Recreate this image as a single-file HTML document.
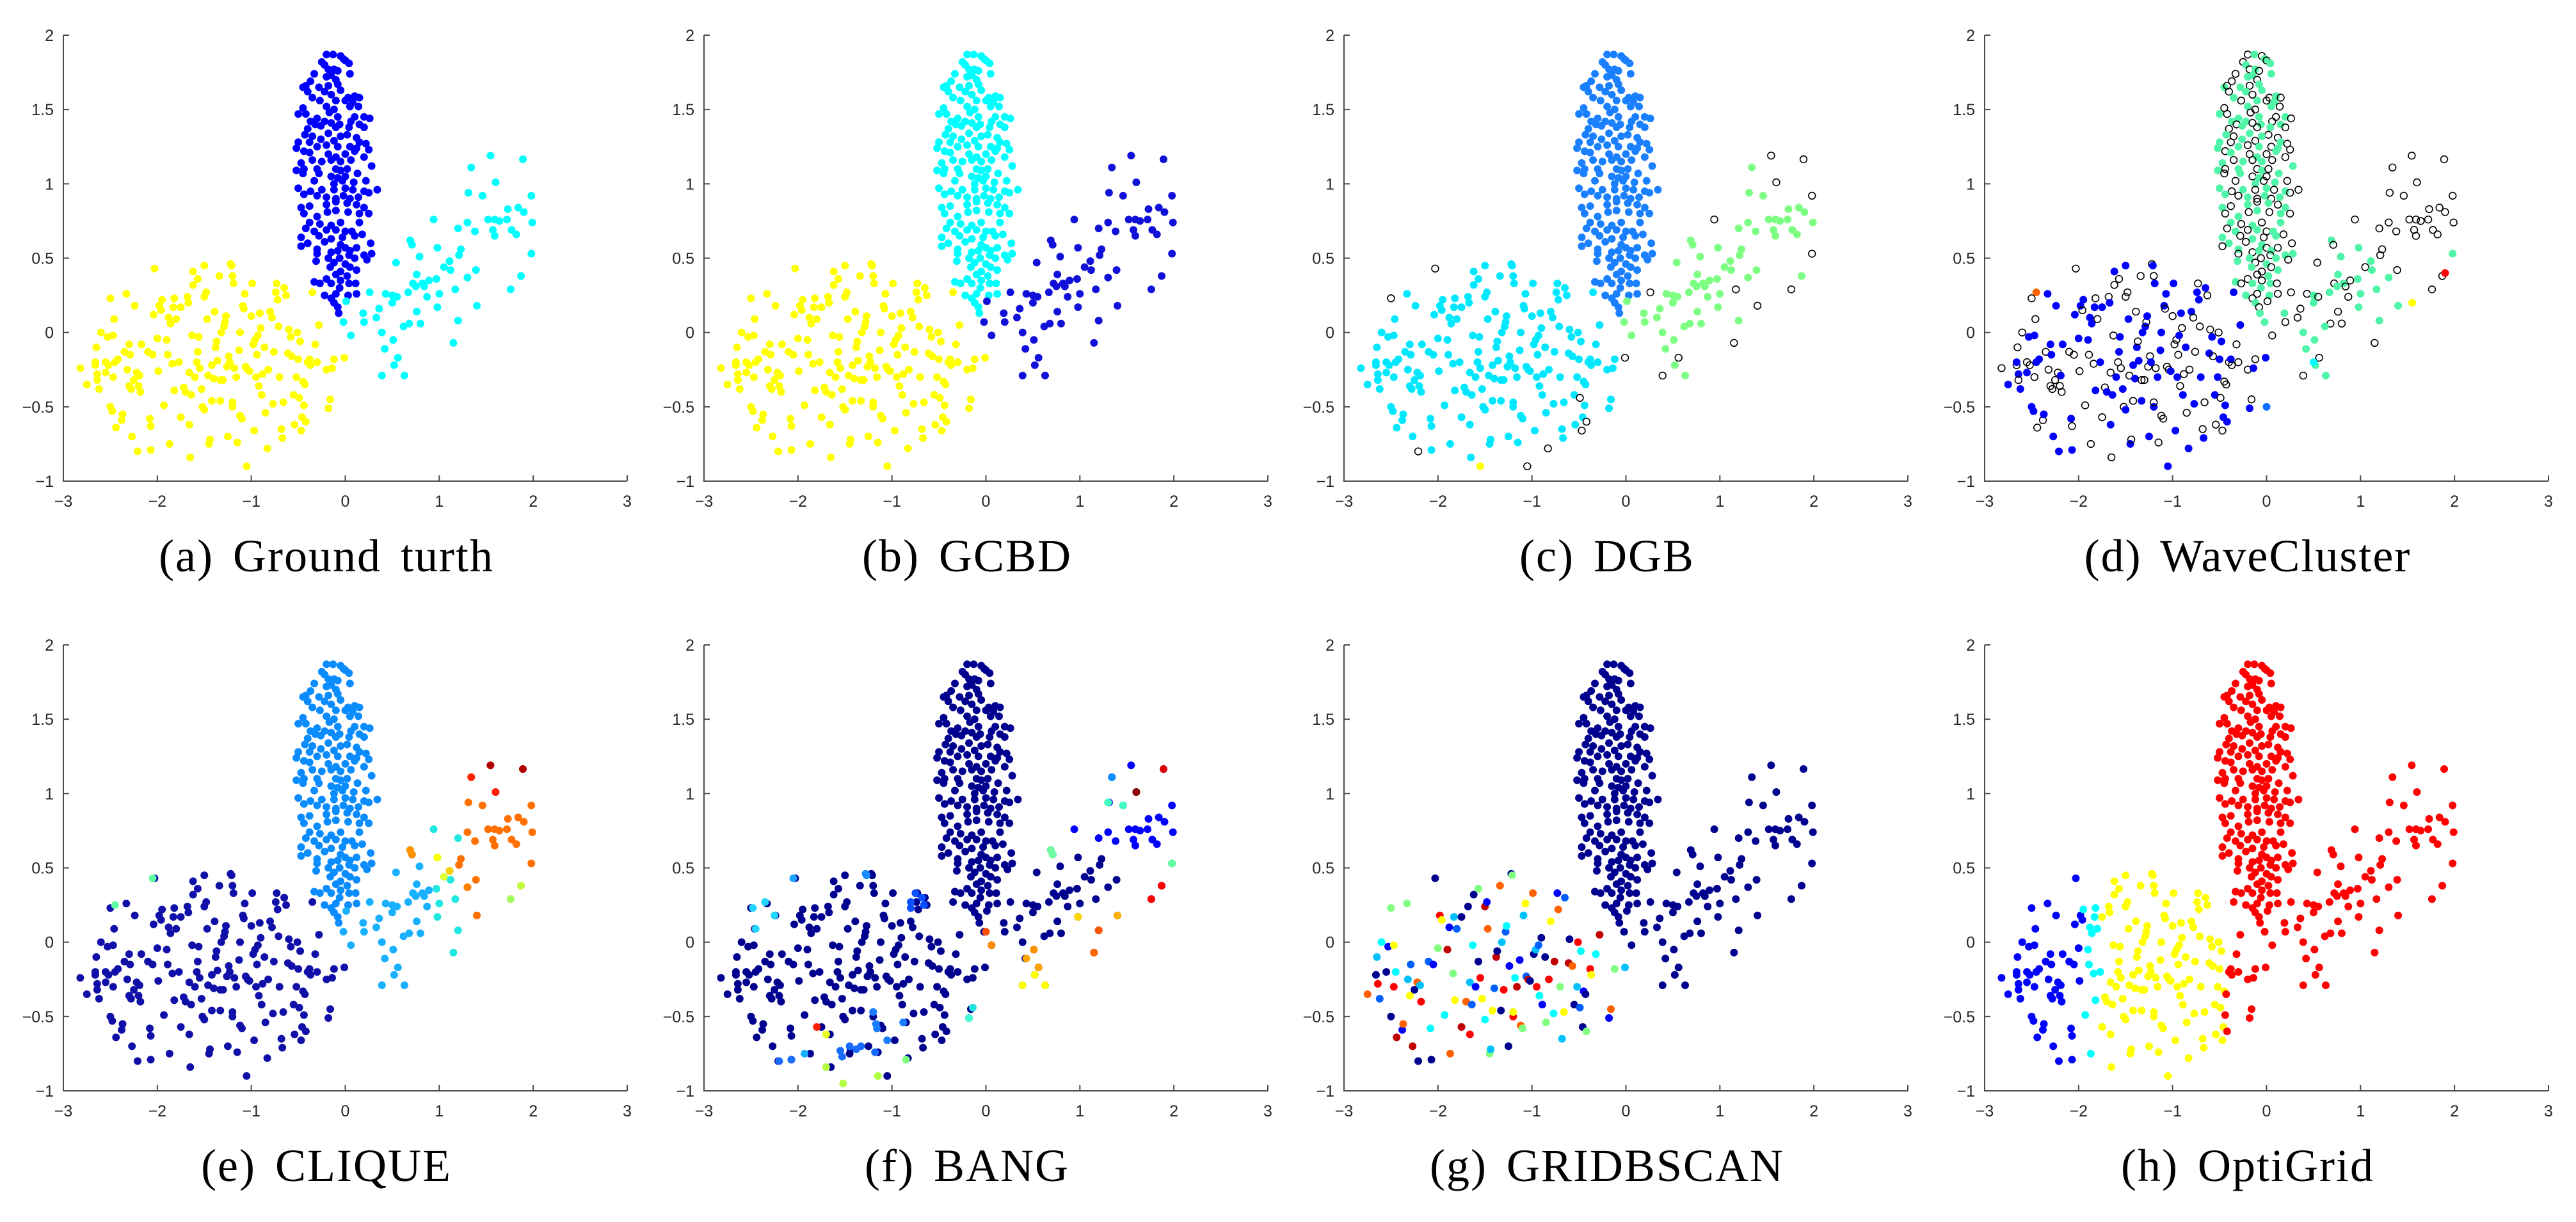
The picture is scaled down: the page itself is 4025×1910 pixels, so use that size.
<!DOCTYPE html>
<html><head><meta charset="utf-8">
<style>
html,body{margin:0;padding:0;background:#fff;}
svg{display:block;}
</style></head>
<body>
<svg id="fig" width="4025" height="1910" viewBox="0 0 4025 1910" xmlns="http://www.w3.org/2000/svg"></svg>
<script>
// ---- data ----
const xTicks=[-3,-2,-1,0,1,2,3];
const yTicks=[-1,-0.5,0,0.5,1,1.5,2];
const yTickLabels=["\u22121","\u22120.5","0","0.5","1","1.5","2"];
const xTickLabels=["\u22123","\u22122","\u22121","0","1","2","3"];
const captions=["(a)  Ground turth","(b)  GCBD","(c)  DGB","(d)  WaveCluster","(e)  CLIQUE","(f)  BANG","(g)  GRIDBSCAN","(h)  OptiGrid"];
const armPts=[[1.545,1.19],[1.89,1.165],[1.34,1.11],[1.6,1.01],[1.31,0.94],[1.46,0.92],[1.98,0.92],[1.84,0.84],[1.9,0.81],[1.73,0.83],[0.94,0.76],[1.3,0.74],[1.52,0.76],[1.59,0.76],[1.64,0.75],[1.72,0.76],[1.99,0.74],[1.2,0.7],[1.57,0.69],[1.38,0.68],[1.77,0.69],[1.82,0.66],[1.59,0.65],[0.69,0.62],[0.71,0.59],[0.98,0.57],[1.23,0.56],[0.79,0.51],[1.21,0.52],[1.98,0.53],[0.54,0.47],[1.11,0.48],[1.05,0.44],[1.12,0.42],[1.39,0.42],[0.76,0.39],[1.87,0.38],[1.3,0.37],[0.89,0.35],[0.97,0.36],[0.72,0.33],[0.82,0.33],[0.84,0.31],[0.75,0.31],[1.76,0.29],[1.17,0.29],[0.26,0.27],[0.67,0.27],[0.43,0.26],[0.5,0.25],[0.55,0.24],[1.0,0.26],[0.87,0.24],[0.5,0.2],[0.01,0.21],[1.4,0.18],[0.36,0.16],[0.98,0.17],[0.76,0.14],[0.19,0.13],[0.33,0.1],[1.2,0.08],[0.2,0.07],[-0.02,0.07],[0.68,0.06],[0.62,0.04],[0.8,0.06],[0.39,0.0],[0.06,-0.02],[0.51,-0.05],[1.15,-0.07],[0.42,-0.11],[0.56,-0.17],[0.52,-0.22],[0.39,-0.29],[0.63,-0.29]];
const circlePts=[[-2.82,-0.24],[-2.75,-0.35],[-2.66,-0.22],[-2.66,-0.2],[-2.65,-0.1],[-2.64,-0.28],[-2.64,-0.32],[-2.62,-0.38],[-2.6,0.0],[-2.55,-0.27],[-2.55,-0.2],[-2.53,-0.03],[-2.52,-0.22],[-2.5,-0.5],[-2.5,0.23],[-2.48,-0.53],[-2.47,-0.3],[-2.47,-0.02],[-2.46,0.09],[-2.45,-0.2],[-2.44,-0.64],[-2.42,-0.18],[-2.38,-0.59],[-2.37,-0.55],[-2.35,-0.13],[-2.33,0.26],[-2.32,-0.25],[-2.3,-0.08],[-2.3,-0.36],[-2.29,-0.15],[-2.28,-0.38],[-2.27,-0.7],[-2.25,-0.32],[-2.24,0.18],[-2.22,-0.27],[-2.21,-0.8],[-2.2,-0.36],[-2.19,-0.29],[-2.18,-0.4],[-2.17,-0.08],[-2.1,-0.13],[-2.08,-0.58],[-2.07,-0.63],[-2.07,-0.79],[-2.05,-0.15],[-2.04,0.12],[-2.03,0.43],[-2.0,-0.04],[-1.99,-0.26],[-1.98,0.18],[-1.96,0.15],[-1.95,0.22],[-1.93,-0.49],[-1.9,-0.05],[-1.89,-0.15],[-1.88,0.1],[-1.87,-0.75],[-1.86,0.06],[-1.84,-0.21],[-1.83,0.17],[-1.82,0.23],[-1.82,-0.39],[-1.8,0.09],[-1.77,-0.2],[-1.75,-0.57],[-1.75,0.17],[-1.72,-0.37],[-1.7,-0.4],[-1.68,0.24],[-1.67,0.2],[-1.66,-0.27],[-1.66,-0.62],[-1.65,-0.84],[-1.64,-0.42],[-1.63,-0.02],[-1.62,0.41],[-1.62,0.32],[-1.6,-0.3],[-1.58,-0.2],[-1.57,-0.13],[-1.57,0.36],[-1.56,-0.03],[-1.55,-0.24],[-1.53,-0.38],[-1.52,-0.5],[-1.5,-0.52],[-1.5,0.24],[-1.5,0.45],[-1.48,0.27],[-1.47,0.09],[-1.46,-0.29],[-1.45,-0.75],[-1.44,-0.72],[-1.42,-0.22],[-1.42,-0.46],[-1.4,-0.31],[-1.39,0.14],[-1.38,-0.1],[-1.37,-0.06],[-1.36,-0.19],[-1.34,0.38],[-1.33,-0.46],[-1.33,-0.32],[-1.32,0.0],[-1.3,-0.32],[-1.29,0.04],[-1.28,0.07],[-1.27,0.11],[-1.26,-0.23],[-1.25,-0.7],[-1.24,-0.16],[-1.23,-0.2],[-1.22,0.46],[-1.21,0.45],[-1.2,0.38],[-1.2,-0.5],[-1.2,-0.47],[-1.19,0.33],[-1.18,-0.24],[-1.16,-0.3],[-1.15,-0.74],[-1.13,-0.12],[-1.12,-0.56],[-1.12,0.0],[-1.1,-0.58],[-1.09,0.18],[-1.08,0.16],[-1.07,0.26],[-1.06,-0.23],[-1.05,-0.9],[-1.04,-0.25],[-1.02,-0.26],[-1.0,0.11],[-0.99,0.33],[-0.98,-0.08],[-0.97,-0.66],[-0.96,-0.05],[-0.95,-0.3],[-0.94,-0.15],[-0.93,-0.02],[-0.92,-0.36],[-0.91,0.13],[-0.9,0.03],[-0.89,-0.42],[-0.88,-0.28],[-0.86,-0.1],[-0.85,-0.54],[-0.83,-0.78],[-0.82,-0.25],[-0.8,0.14],[-0.78,0.1],[-0.77,-0.48],[-0.76,-0.13],[-0.74,0.27],[-0.73,0.33],[-0.72,0.22],[-0.71,0.04],[-0.7,-0.3],[-0.68,-0.65],[-0.67,-0.71],[-0.66,-0.47],[-0.65,0.3],[-0.63,0.25],[-0.61,-0.14],[-0.6,0.02],[-0.58,-0.03],[-0.57,-0.16],[-0.55,-0.42],[-0.54,-0.62],[-0.52,-0.3],[-0.51,0.0],[-0.5,-0.18],[-0.49,-0.44],[-0.48,-0.06],[-0.47,-0.66],[-0.46,-0.57],[-0.45,-0.33],[-0.44,-0.49],[-0.43,-0.35],[-0.42,-0.6],[-0.4,-0.2],[-0.38,-0.18],[-0.37,-0.22],[-0.35,0.27],[-0.32,-0.08],[-0.28,0.05],[-0.2,-0.25],[-0.18,-0.51],[-0.16,-0.45],[-0.14,-0.24],[-0.12,-0.18],[-0.01,-0.17],[-0.3,-0.2]];
const vertPts=[[-0.2,1.87],[-0.13,1.87],[-0.05,1.86],[-0.02,1.84],[0.0,1.83],[0.04,1.81],[-0.25,1.82],[-0.22,1.8],[-0.18,1.77],[-0.12,1.77],[-0.08,1.76],[-0.15,1.73],[-0.33,1.74],[-0.2,1.72],[-0.1,1.7],[0.05,1.74],[-0.37,1.69],[-0.45,1.65],[-0.42,1.66],[-0.28,1.65],[-0.18,1.66],[-0.08,1.67],[-0.4,1.62],[-0.22,1.62],[-0.15,1.6],[-0.05,1.63],[0.03,1.58],[0.1,1.59],[0.15,1.58],[-0.35,1.58],[-0.27,1.56],[-0.1,1.56],[0.0,1.56],[0.08,1.55],[-0.45,1.51],[-0.2,1.52],[-0.12,1.5],[0.05,1.52],[0.14,1.52],[-0.5,1.47],[-0.42,1.47],[-0.3,1.44],[-0.17,1.48],[-0.08,1.45],[0.1,1.45],[0.2,1.45],[0.26,1.44],[-0.37,1.42],[-0.32,1.4],[-0.22,1.42],[-0.15,1.41],[-0.06,1.4],[0.06,1.42],[0.15,1.4],[-0.4,1.37],[-0.26,1.39],[-0.1,1.38],[0.04,1.38],[0.2,1.38],[-0.43,1.33],[-0.35,1.32],[-0.18,1.34],[0.02,1.33],[-0.05,1.32],[0.12,1.31],[-0.5,1.28],[-0.38,1.28],[-0.26,1.3],[-0.12,1.29],[0.15,1.28],[0.22,1.27],[-0.52,1.24],[-0.44,1.22],[-0.3,1.25],[-0.2,1.26],[-0.08,1.25],[0.05,1.25],[0.12,1.24],[0.25,1.23],[-0.38,1.21],[-0.18,1.2],[-0.1,1.18],[0.0,1.2],[0.1,1.22],[0.2,1.18],[-0.47,1.14],[-0.35,1.16],[-0.25,1.15],[-0.15,1.16],[-0.05,1.15],[0.06,1.16],[-0.52,1.09],[-0.44,1.1],[-0.3,1.1],[-0.1,1.1],[-0.05,1.09],[0.02,1.1],[0.28,1.12],[-0.45,1.07],[-0.28,1.07],[-0.15,1.05],[-0.08,1.04],[0.0,1.05],[0.13,1.07],[-0.33,1.02],[-0.12,1.0],[-0.03,1.02],[0.09,1.01],[0.22,1.02],[-0.5,0.97],[-0.37,0.95],[-0.25,0.96],[-0.12,0.96],[0.0,0.97],[0.08,0.96],[0.2,0.95],[0.34,0.96],[-0.44,0.93],[-0.3,0.92],[-0.2,0.91],[-0.1,0.9],[-0.02,0.92],[0.05,0.9],[0.14,0.91],[0.25,0.94],[-0.47,0.84],[-0.38,0.85],[-0.2,0.86],[-0.1,0.88],[0.02,0.87],[0.12,0.86],[0.2,0.84],[-0.44,0.8],[-0.3,0.78],[-0.19,0.81],[-0.1,0.82],[0.03,0.81],[0.15,0.8],[0.25,0.8],[-0.38,0.74],[-0.27,0.73],[-0.15,0.72],[-0.05,0.74],[0.15,0.74],[-0.42,0.7],[-0.33,0.68],[-0.2,0.69],[-0.1,0.69],[0.0,0.68],[0.07,0.68],[0.18,0.66],[-0.47,0.64],[-0.28,0.65],[-0.15,0.63],[-0.03,0.64],[0.1,0.65],[0.27,0.6],[-0.4,0.6],[-0.22,0.61],[-0.05,0.59],[0.0,0.57],[0.05,0.55],[0.12,0.57],[0.28,0.53],[-0.47,0.58],[-0.3,0.56],[-0.15,0.54],[-0.08,0.55],[0.04,0.52],[0.2,0.52],[-0.3,0.53],[-0.18,0.5],[-0.06,0.5],[0.1,0.5],[0.23,0.49],[-0.31,0.48],[-0.12,0.47],[0.0,0.46],[0.05,0.44],[-0.16,0.44],[-0.05,0.41],[0.12,0.42],[-0.1,0.39],[0.02,0.38],[-0.2,0.36],[-0.33,0.34],[-0.27,0.33],[-0.15,0.33],[-0.05,0.35],[0.04,0.33],[0.11,0.33],[-0.06,0.3],[-0.1,0.26],[-0.22,0.25],[-0.15,0.23],[0.03,0.25],[0.12,0.26],[-0.12,0.2],[-0.08,0.17],[-0.07,0.13]];
// per-panel cluster colours: [circle, vertical, arm]
const clusterColors=[
 ["#ffff00","#0000ff","#00ffff"],
 ["#ffff00","#00ffff","#1010d8"],
 ["#00e8ff","#1a80ff","#7cff82"],
 ["#0000ff","#50f5a8","#50f5a8"],
 ["#1010a8","#0a8cff","#18b0ff"],
 ["#00008f","#00008f","#00008f"],
 ["#00008f","#00008f","#00008f"],
 ["#ffff00","#ff0000","#ff0000"]];
// extra coloured points drawn on top, per panel: [x,y,color]
const overrides=[
 [],[],
 [[-1.55,-0.9,"#ffff00"]],
 [[-2.45,0.27,"#ff6000"],[1.9,0.4,"#ff0000"],[1.55,0.2,"#ffff00"],[0.5,-0.2,"#00ffff"],[0.0,-0.5,"#0a70ff"]],
 [[-2.45,0.25,"#60ffa0"],[-2.05,0.43,"#60ffa0"],[1.545,1.19,"#b00000"],[1.89,1.165,"#b00000"],[1.34,1.11,"#ff2000"],[1.6,1.01,"#ff2000"],[0.69,0.62,"#ff9000"],[0.71,0.59,"#ff9000"],[0.98,0.57,"#ffff00"],[1.76,0.29,"#a0ff60"],[1.87,0.38,"#c0ff40"],[1.11,0.48,"#ffd000"],[1.05,0.44,"#e0ff30"],[1.3,0.37,"#ff8000"]],
 [[-2.05,0.43,"#1aa3ff"],[-2.35,0.27,"#22d6ff"],[-2.48,0.23,"#22d6ff"],[-2.25,0.18,"#22d6ff"],[-2.45,0.09,"#22d6ff"],[-1.28,0.46,"#1a8cff"],[-1.27,0.45,"#1a8cff"],[-0.75,0.33,"#0a50ff"],[-0.68,0.3,"#0a50ff"],[-0.8,0.27,"#0a50ff"],[-0.66,0.25,"#0a50ff"],[-0.8,0.23,"#0a50ff"],[-1.8,-0.57,"#ff2000"],[-1.7,-0.62,"#e8ff20"],[-1.7,-0.84,"#b0ff40"],[-1.52,-0.95,"#b0ff40"],[-1.15,-0.9,"#b0ff40"],[-0.85,-0.79,"#80ff80"],[-2.2,-0.8,"#1a6cff"],[-2.07,-0.79,"#1a6cff"],[-1.93,-0.75,"#18b0ff"],[-1.55,-0.73,"#1a6cff"],[-1.53,-0.77,"#1a6cff"],[-1.45,-0.7,"#1a6cff"],[-1.38,-0.72,"#1a6cff"],[-1.33,-0.7,"#1a6cff"],[-1.18,-0.74,"#1a6cff"],[-1.2,-0.47,"#1a7cff"],[-1.17,-0.55,"#1a7cff"],[-1.16,-0.58,"#1a7cff"],[-1.05,-0.66,"#1a7cff"],[-0.88,-0.54,"#1a7cff"],[-0.14,-0.44,"#20e0e0"],[-0.18,-0.51,"#40ffd0"],[0.0,0.07,"#ff5000"],[0.06,-0.02,"#ff8c00"],[0.43,-0.11,"#ffa500"],[0.51,-0.05,"#ff9000"],[0.56,-0.17,"#ffa500"],[0.52,-0.22,"#ffff00"],[0.39,-0.29,"#ffff00"],[0.63,-0.29,"#ffff00"],[0.98,0.17,"#ffd700"],[1.4,0.18,"#ffb000"],[1.2,0.08,"#ff5500"],[1.15,-0.07,"#ff6600"],[0.69,0.62,"#70ffa0"],[0.71,0.59,"#70ffa0"],[1.3,0.94,"#40ffc0"],[1.46,0.92,"#40ffc0"],[1.34,1.11,"#0a90ff"],[1.6,1.01,"#900000"],[1.89,1.165,"#e00000"],[1.98,0.53,"#60ffa0"],[1.87,0.38,"#ff0000"],[1.76,0.29,"#ff0000"]],
 [],[]];
// open-circle (noise) points for DGB
const dgbNoise=[[-2.5,0.23],[-2.03,0.43],[-0.49,-0.44],[-0.47,-0.66],[-1.05,-0.9],[-0.83,-0.78],[-2.21,-0.8],[-0.42,-0.6],[-0.01,-0.17],[1.545,1.19],[1.89,1.165],[1.6,1.01],[0.94,0.76],[1.98,0.92],[1.98,0.53],[1.17,0.29],[1.76,0.29],[1.15,-0.07],[0.56,-0.17],[0.39,-0.29],[1.4,0.18],[0.26,0.27]];
// jet palette used by GRIDBSCAN for the fragmented circle
const gridbscanPalette=["#0000ff","#ff6000","#00008f","#80ff80","#00c0ff","#ff0000","#ffff00","#0060ff","#00ffff","#c00000","#00008f"];
</script>
<script>
const NS="http://www.w3.org/2000/svg";
const svg=document.getElementById('fig');
const panelX=[99,1100,2100,3101];
const panelY=[55,1008];
const PW=881, PH=697, R=6;
function mk(tag,attrs,parent){const e=document.createElementNS(NS,tag);for(const k in attrs)e.setAttribute(k,attrs[k]);(parent||svg).appendChild(e);return e;}
function sx(p,x){return panelX[p%4]+(x+3)/6*PW;}
function sy(p,y){return panelY[Math.floor(p/4)]+PH-(y+1)/3*PH;}
function colorFor(p,cl,i,x,y){
  let c=clusterColors[p][cl];
  if(p===4&&cl===2){ if(x>1.2) c="#ff7000"; else if(x>0.9) c="#20e8e0"; }
  if(p===5&&cl===2&&x>0.9&&y>0.6) c="#0000ff";
  if(p===7&&cl===0){ if(x<-1.95) c="#0000ff"; else if(x<-1.75) c="#00ffff"; else if(x>-0.45) c="#ff0000"; }
  return c;
}
for(let p=0;p<8;p++){
  const g=mk('g',{});
  
  
  const x0=panelX[p%4], y0=panelY[Math.floor(p/4)];
  const ax=mk('path',{d:`M${x0},${y0} L${x0},${y0+PH} L${x0+PW},${y0+PH}`,fill:'none',stroke:'#4a4a4a','stroke-width':2},g);
  
  
  xTicks.forEach((t,k)=>{
    const X=sx(p,t);
    mk('line',{x1:X,y1:y0+PH,x2:X,y2:y0+PH-9,stroke:'#4a4a4a','stroke-width':2},g);
    const tx=mk('text',{x:X,y:y0+PH+40,'text-anchor':'middle','font-family':'Liberation Sans, sans-serif','font-size':25,fill:'#262626'},g);
    tx.textContent=xTickLabels[k];
    
    
  });
  yTicks.forEach((t,k)=>{
    const Y=sy(p,t);
    mk('line',{x1:x0,y1:Y,x2:x0+9,y2:Y,stroke:'#4a4a4a','stroke-width':2},g);
    const tx=mk('text',{x:x0-15,y:Y+9,'text-anchor':'end','font-family':'Liberation Sans, sans-serif','font-size':25,fill:'#262626'},g);
    tx.textContent=yTickLabels[k];
    
    
  });
  const clusters=[circlePts,vertPts,armPts];
  clusters.forEach((pts,cl)=>{
    pts.forEach((pt,i)=>{
      const [x,y]=pt;
      let open=false, col=colorFor(p,cl,i,x,y);
      if(p===3){ if(cl===2&&x>1.0&&y>0.55) open=true; else if(i%2===0) open=true; }
      if(p===6&&cl===0){ if(i%3===0) return; col=gridbscanPalette[i%gridbscanPalette.length]; }
      const c=mk('circle',{cx:sx(p,x),cy:sy(p,y),r:open?5.4:R,fill:open?'none':col,stroke:open?'#000':'none','stroke-width':open?1.6:0},g);
      
      
    });
  });
  overrides[p].forEach(o=>{
    const c=mk('circle',{cx:sx(p,o[0]),cy:sy(p,o[1]),r:R,fill:o[2]},g);
    
    
  });
  if(p===2){
    dgbNoise.forEach(o=>{
      const c=mk('circle',{cx:sx(p,o[0]),cy:sy(p,o[1]),r:5.4,fill:'#fff',stroke:'#000','stroke-width':1.6},g);
      
      
    });
  }
  const cap=mk('text',{x:x0+411,y:y0+838,'text-anchor':'middle','font-family':'Liberation Serif, serif','font-size':72,'letter-spacing':2,'word-spacing':10,fill:'#000'},g);
  cap.setAttribute('xml:space','preserve');
  cap.textContent=captions[p];
  
  
}
</script>
</body></html>
